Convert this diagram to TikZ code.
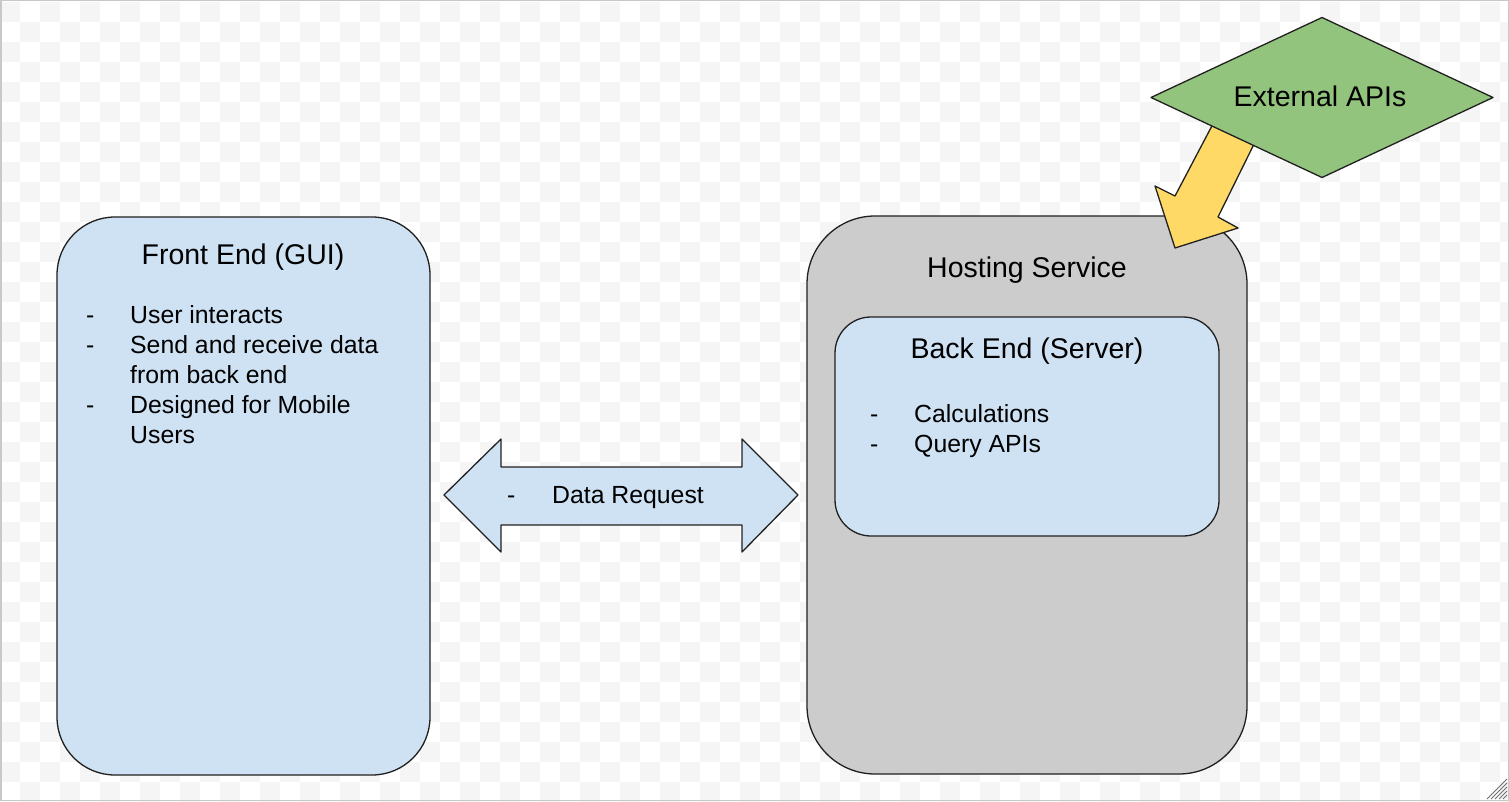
\documentclass[tikz,border=0pt]{standalone}
\usepackage{fontspec}
\setmainfont{Liberation Sans}
\usetikzlibrary{shapes.geometric}
\definecolor{lblue}{HTML}{CFE2F3}
\definecolor{lgray}{HTML}{CCCCCC}
\definecolor{lgreen}{HTML}{93C47D}
\definecolor{lyellow}{HTML}{FFD966}
\definecolor{chk}{HTML}{F5F5F5}
\definecolor{framecol}{HTML}{C8C8C8}
\definecolor{ink}{HTML}{202020}
\definecolor{handle}{HTML}{707070}
\begin{document}
\begin{tikzpicture}[x=1pt,y=-1pt,
  shapeline/.style={draw=ink,line width=1.3pt,line join=round},
  roundbox/.style={shapeline,inner sep=0pt,outer sep=0pt},
  titletext/.style={font=\fontsize{28.5}{34}\selectfont,anchor=base,inner sep=0pt},
  itemtext/.style={font=\fontsize{24.8}{30}\selectfont,anchor=base west,inner sep=0pt},
]
\useasboundingbox (0,0) rectangle (1509,802);
\fill[white] (0,0) rectangle (1509,802);
% checkerboard background
\foreach \i in {0,...,75}{
  \foreach \j in {0,...,39}{
    \pgfmathtruncatemacro\chkk{\i+\j}
    \ifodd\chkk\else\fill[chk] (20*\i,2+20*\j) rectangle ++(20,20);\fi
  }
}
% frame
\draw[framecol,line width=1.5pt] (0.75,0.75) rectangle (1508.25,800.25);
% resize handle
\foreach \d in {4,8,12,16,20}{
  \draw[handle,line width=0.9pt] (1507-\d,799) -- (1507,799-\d);
}

% Front End box
\node[roundbox,fill=lblue,rounded corners=58pt,minimum width=373pt,minimum height=558pt] (fe) at (243.5,496) {};
\node[titletext] (fetitle) at (243,265) {Front End (GUI)};
\node[itemtext] (fed1) at (86,323) {-};
\node[itemtext] (fei1) at (130,323) {User interacts};
\node[itemtext] (fed2) at (86,353) {-};
\node[itemtext] (fei2) at (130,353) {Send and receive data};
\node[itemtext] (fei2b) at (130,383) {from back end};
\node[itemtext] (fed3) at (86,413) {-};
\node[itemtext] (fei3) at (130,413) {Designed for Mobile};
\node[itemtext] (fei3b) at (130,443) {Users};

% Hosting service box
\node[roundbox,fill=lgray,rounded corners=68pt,minimum width=440pt,minimum height=558pt] (host) at (1027,495) {};
\node[titletext] (hosttitle) at (1027,277) {Hosting Service};

% Yellow block arrow from External APIs to hosting
\filldraw[shapeline,fill=lyellow] (1215,120) -- (1257,138) -- (1218,217) -- (1238,228) -- (1175,248) -- (1155,186) -- (1175,196) -- cycle;

% External APIs diamond
\node[diamond,shapeline,fill=lgreen,inner sep=0pt,outer sep=0pt,minimum width=342pt,minimum height=160pt] (ext) at (1322,97.5) {};
\node[titletext] (exttitle) at (1320,107) {External APIs};

% Back End box
\node[roundbox,fill=lblue,rounded corners=36pt,minimum width=384pt,minimum height=219pt] (be) at (1027,426.5) {};
\node[titletext] (betitle) at (1027,358) {Back End (Server)};
\node[itemtext] (bed1) at (870,422) {-};
\node[itemtext] (bei1) at (914,422) {Calculations};
\node[itemtext] (bed2) at (870,452) {-};
\node[itemtext] (bei2) at (914,452) {Query APIs};

% Double block arrow: Data Request
\filldraw[shapeline,fill=lblue] (444,495) -- (501,439) -- (501,467) -- (742,467) -- (742,439) -- (798,495) -- (742,552) -- (742,525) -- (501,525) -- (501,552) -- cycle;
\node[itemtext] (drd) at (507,503) {-};
\node[itemtext] (dr) at (552,503) {Data Request};
\end{tikzpicture}
\end{document}
